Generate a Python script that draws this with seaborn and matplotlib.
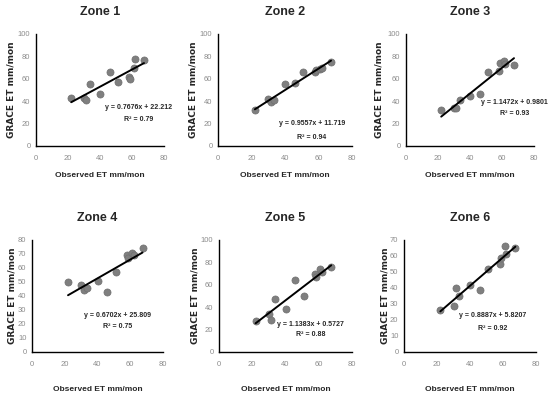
import numpy as np
import pandas as pd
import seaborn as sns
import matplotlib.pyplot as plt

# observed ET (same months for all zones)
obs_et = [22, 30, 31.5, 33.5, 40, 46, 51, 58, 58.5, 61, 62, 67.5]

# GRACE ET per zone
zone1 = [43, 43, 41, 55, 46, 66, 57, 62, 60, 70, 78, 77]
zone2 = [32, 42, 39, 41, 55, 56, 66, 66, 68, 69, 70, 75]
zone3 = [32, 34, 34, 41, 45, 46, 66, 67, 74, 76, 73, 72]
zone4 = [50, 48, 44, 46, 51, 43, 57, 69, 67, 71, 69, 74]
zone5 = [28, 34, 29, 47, 38, 64, 50, 70, 67, 74, 71, 76]
zone6 = [26, 29, 40, 35, 42, 39, 52, 55, 59, 66, 61, 65]

zone_names = ["Zone 1", "Zone 2", "Zone 3", "Zone 4", "Zone 5", "Zone 6"]
slopes = [0.7676, 0.9557, 1.1472, 0.6702, 1.1383, 0.8887]
intercepts = [22.212, 11.719, 0.9801, 25.809, 0.5727, 5.8207]
r2 = [0.79, 0.94, 0.93, 0.75, 0.88, 0.92]
y_max = [100, 100, 100, 80, 100, 70]
y_step = [20, 20, 20, 10, 20, 10]

# panel boxes in pixels: left, right, top, bottom
boxes = [(36, 164, 34, 146), (218, 352, 34, 146), (406, 534, 34, 146),
         (32, 163, 240, 352), (219, 352, 240, 352), (404, 536, 240, 352)]
ylab_x = [16, 197, 384, 17, 199, 389]
# equation label anchor (data coords)
eq_pos = [(64, 34, 24), (56, 20.5, 8), (68, 39, 29),
          (52.5, 26.4, 18), (55, 25, 16), (54, 23, 14.4)]

sns.set_style("white")
plt.rcParams['font.family'] = ['Liberation Sans', 'DejaVu Sans']

W, H = 550, 394
fig = plt.figure(figsize=(5.5, 3.94), dpi=100)

all_y = [zone1, zone2, zone3, zone4, zone5, zone6]
for i, grace in enumerate(all_y):
    l, r, t, b = boxes[i]
    ax = fig.add_axes([l / W, (H - b) / H, (r - l) / W, (b - t) / H])
    df = pd.DataFrame({"obs": obs_et, "grace": grace})
    sns.scatterplot(data=df, x="obs", y="grace", ax=ax, color="#7f7f7f",
                    s=26, edgecolor="#6f6f6f", linewidth=0.5, zorder=2)
    xs = np.array([min(obs_et), max(obs_et)])
    sns.lineplot(x=xs, y=slopes[i] * xs + intercepts[i], ax=ax,
                 color="black", linewidth=1.4, zorder=3)

    ax.set_xlim(0, 80)
    ax.set_ylim(0, y_max[i])
    ax.set_xticks(range(0, 81, 20))
    ax.set_yticks(range(0, y_max[i] + 1, y_step[i]))
    for s in ["top", "right"]:
        ax.spines[s].set_visible(False)
    for s in ["left", "bottom"]:
        ax.spines[s].set_color("black")
        ax.spines[s].set_linewidth(1.0)
    ax.tick_params(axis="both", direction="out", length=2.5, width=0.8,
                   colors="black", labelcolor="#8c8c8c", labelsize=5.5, pad=1.5)
    ax.tick_params(axis="x", pad=4)

    ax.set_title(zone_names[i], fontsize=9, fontweight="bold", pad=14)
    ax.set_xlabel("Observed ET mm/mon", fontsize=6, fontweight="bold",
                  labelpad=7 if i < 3 else 13)
    ax.set_ylabel("GRACE ET mm/mon", fontsize=6.5, fontweight="bold",
                  family=['DejaVu Sans'])
    ax.yaxis.set_label_coords((ylab_x[i] - l) / (r - l), 0.5)

    ex, ey, ry = eq_pos[i]
    ax.text(ex, ey, f"y = {slopes[i]}x + {intercepts[i]}", ha="center",
            va="center", fontsize=5, fontweight="bold")
    ax.text(ex, ry, f"R² = {r2[i]:.2f}", ha="center", va="center",
            fontsize=5, fontweight="bold")

fig.savefig("out.png", dpi=100)
